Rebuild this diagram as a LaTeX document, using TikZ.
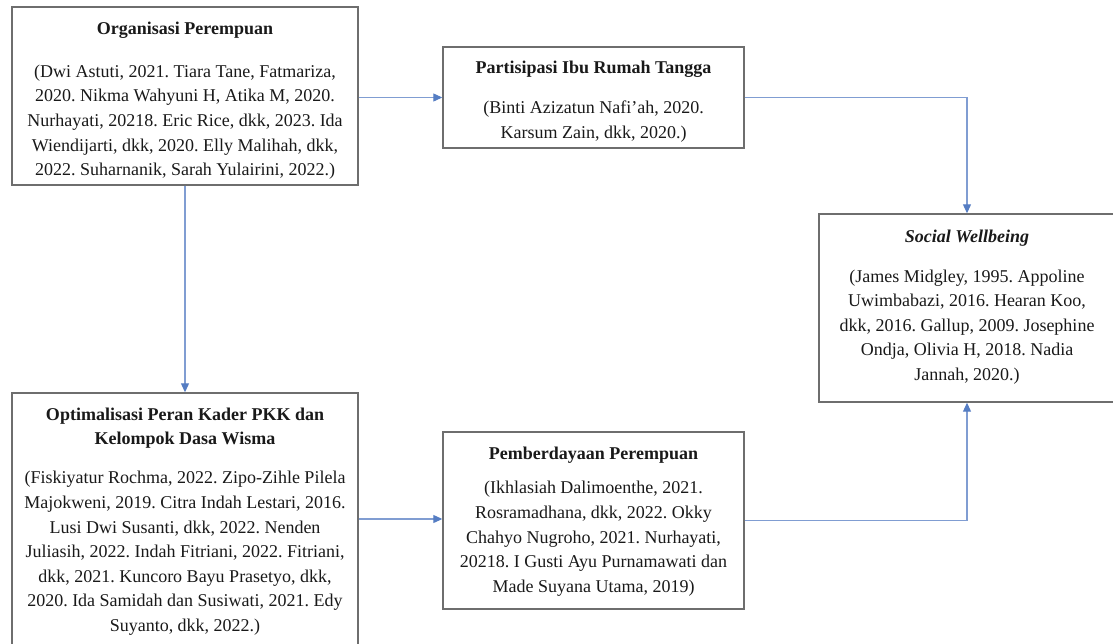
\documentclass[tikz,border=0pt]{standalone}
\usepackage{fontspec}
\setmainfont{Liberation Serif}
\frenchspacing
\usetikzlibrary{arrows.meta}
\definecolor{boxgray}{RGB}{110,110,110}
\definecolor{linkblue}{RGB}{85,125,195}
\tikzset{
  box/.style={draw=boxgray, line width=1.4pt, rectangle, inner sep=0pt},
  boxtext/.style={inner sep=0pt, align=center,
    font=\fontsize{18}{24.6}\selectfont\frenchspacing, text=black!90},
  link/.style={draw=linkblue!75, line width=1.1pt, -{Triangle[length=9pt,width=8pt,fill=linkblue,color=linkblue]}},
}
\begin{document}
\begin{tikzpicture}[x=1pt,y=-1pt]
\useasboundingbox (0,0) rectangle (1113,643);
\node[box, minimum width=346pt, minimum height=178pt] (org) at (185,96) {};
\node[boxtext] (orgtxt) at (185,100.7)
  {\textbf{Organisasi Perempuan}\\[18.4pt]
   (Dwi Astuti, 2021. Tiara Tane, Fatmariza,\\
   2020. Nikma Wahyuni H, Atika M, 2020.\\
   Nurhayati, 20218. Eric Rice, dkk, 2023. Ida\\
   Wiendijarti, dkk, 2020. Elly Malihah, dkk,\\
   2022. Suharnanik, Sarah Yulairini, 2022.)};
\node[box, minimum width=301pt, minimum height=101pt] (part) at (593.5,97.5) {};
\node[boxtext] (parttxt) at (593.5,101.5)
  {\textbf{Partisipasi Ibu Rumah Tangga}\\[15.4pt]
   (Binti Azizatun Nafi'ah, 2020.\\
   Karsum Zain, dkk, 2020.)};
\node[box, minimum width=296pt, minimum height=188pt] (sw) at (967,308) {};
\node[boxtext] (swtxt) at (967,307)
  {\textbf{\itshape Social Wellbeing}\\[15.4pt]
   (James Midgley, 1995. Appoline\\
   Uwimbabazi, 2016. Hearan Koo,\\
   dkk, 2016. Gallup, 2009. Josephine\\
   Ondja, Olivia H, 2018. Nadia\\
   Jannah, 2020.)};
\node[box, minimum width=346pt, minimum height=252pt] (opt) at (185,519) {};
\node[boxtext] (opttxt) at (185,521.5)
  {\textbf{Optimalisasi Peran Kader PKK dan}\\
   \textbf{Kelompok Dasa Wisma}\\[14.4pt]
   (Fiskiyatur Rochma, 2022. Zipo-Zihle Pilela\\
   Majokweni, 2019. Citra Indah Lestari, 2016.\\
   Lusi Dwi Susanti, dkk, 2022. Nenden\\
   Juliasih, 2022. Indah Fitriani, 2022. Fitriani,\\
   dkk, 2021. Kuncoro Bayu Prasetyo, dkk,\\
   2020. Ida Samidah dan Susiwati, 2021. Edy\\
   Suyanto, dkk, 2022.)};
\node[box, minimum width=301pt, minimum height=177pt] (pem) at (593.5,520.5) {};
\node[boxtext] (pemtxt) at (593.5,521.7)
  {\textbf{Pemberdayaan Perempuan}\\[9.4pt]
   (Ikhlasiah Dalimoenthe, 2021.\\
   Rosramadhana, dkk, 2022. Okky\\
   Chahyo Nugroho, 2021. Nurhayati,\\
   20218. I Gusti Ayu Purnamawati dan\\
   Made Suyana Utama, 2019)};
\draw[link] (org.east |- part.west) -- (part.west);
\draw[link] (part.east) -| (sw.north);
\draw[link] (org.south) -- (opt.north);
\draw[link] (opt.east) -- (opt.east -| pem.west);
\draw[link] (pem.east) -| (sw.south);
\end{tikzpicture}
\end{document}
